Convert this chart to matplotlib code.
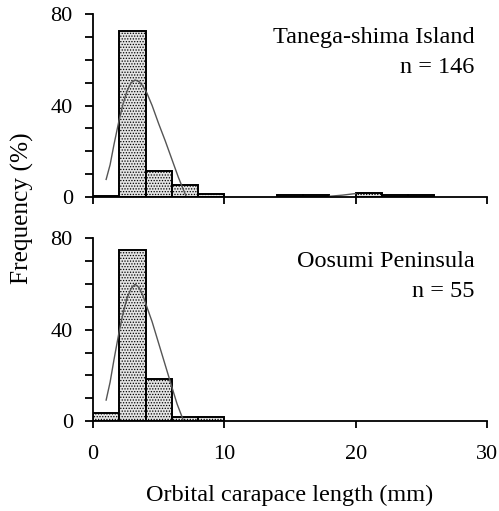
import numpy as np
import matplotlib.pyplot as plt
import matplotlib.ticker as ticker

plt.rcParams['font.family'] = ['Liberation Serif', 'DejaVu Serif']
plt.rcParams['hatch.linewidth'] = 0.6
plt.rcParams['hatch.color'] = '#555555'

# bins (left edges, width 2 mm)
bin_left = [0, 2, 4, 6, 8, 10, 12, 14, 16, 18, 20, 22, 24, 26, 28]

# Tanega-shima Island, n = 146 (%)
tane_freq = [0.5, 72.8, 11.2, 5.2, 1.0, 0, 0, 0.7, 0.7, 0, 1.5, 0.7, 0.7, 0, 0]
tane_curve_x = [1.0, 1.3, 1.6, 2.0, 2.3, 2.6, 2.9, 3.2, 3.5, 3.8, 4.1, 4.5, 5.0, 5.5, 6.0, 6.5, 7.1]
tane_curve_y = [7.6, 14, 23, 34, 41, 46.5, 50, 51.2, 50.5, 48.5, 45.5, 40, 32, 24.5, 16.5, 8.5, 0]
tane_curve2_x = [18.0, 19.0, 20.0]
tane_curve2_y = [0.2, 0.7, 1.4]

# Oosumi Peninsula, n = 55 (%)
oosu_freq = [3.6, 75.0, 18.4, 1.8, 1.8, 0, 0, 0, 0, 0, 0, 0, 0, 0, 0]
oosu_curve_x = [1.0, 1.3, 1.6, 2.0, 2.3, 2.6, 2.9, 3.2, 3.5, 3.8, 4.1, 4.5, 5.0, 5.5, 6.0, 6.4, 6.9]
oosu_curve_y = [9.2, 17, 27, 39.5, 47.5, 54, 58, 59.9, 58.5, 55, 50, 43.5, 34, 24.5, 15, 7.5, 0]

panels = [
    ("Tanega-shima Island", "n = 146", tane_freq, [(tane_curve_x, tane_curve_y), (tane_curve2_x, tane_curve2_y)]),
    ("Oosumi Peninsula", "n = 55", oosu_freq, [(oosu_curve_x, oosu_curve_y)]),
]

fig = plt.figure(figsize=(4.99, 5.11), dpi=100)
ax_top = fig.add_axes([0.1864, 0.615, 0.7896, 0.357])
ax_bot = fig.add_axes([0.1864, 0.176, 0.7896, 0.3575])

for ax, (name, n_txt, freq, curves) in zip([ax_top, ax_bot], panels):
    for l, f in zip(bin_left, freq):
        if f > 0:
            ax.bar(l, f, width=2, align='edge', facecolor='#e4e4e4',
                   edgecolor='black', linewidth=1.4, hatch='......')
    for cx, cy in curves:
        ax.plot(cx, cy, color='#555555', linewidth=1.0)
    ax.set_xlim(0, 30)
    ax.set_ylim(0, 80)
    ax.spines['top'].set_visible(False)
    ax.spines['right'].set_visible(False)
    ax.spines['left'].set_linewidth(1.3)
    ax.spines['bottom'].set_linewidth(1.3)
    ax.yaxis.set_major_locator(ticker.MultipleLocator(40))
    ax.yaxis.set_minor_locator(ticker.MultipleLocator(10))
    ax.xaxis.set_major_locator(ticker.MultipleLocator(10))
    ax.tick_params(which='both', direction='out', length=6, width=1.3, labelsize=16)
    ax.tick_params(axis='y', pad=8.5)
    ax.tick_params(axis='x', length=5, pad=12.5)
    ax.text(0.968, 0.875, name, transform=ax.transAxes, ha='right', va='center', fontsize=17.5)
    ax.text(0.968, 0.71, n_txt, transform=ax.transAxes, ha='right', va='center', fontsize=17.5)

ax_top.tick_params(axis='x', labelbottom=False)
ax_bot.set_xlabel("Orbital carapace length (mm)", fontsize=17.5, labelpad=15)
fig.text(0.044, 0.593, "Frequency (%)", rotation=90, ha='center', va='center', fontsize=18.3)

fig.savefig('out.png', dpi=100)
